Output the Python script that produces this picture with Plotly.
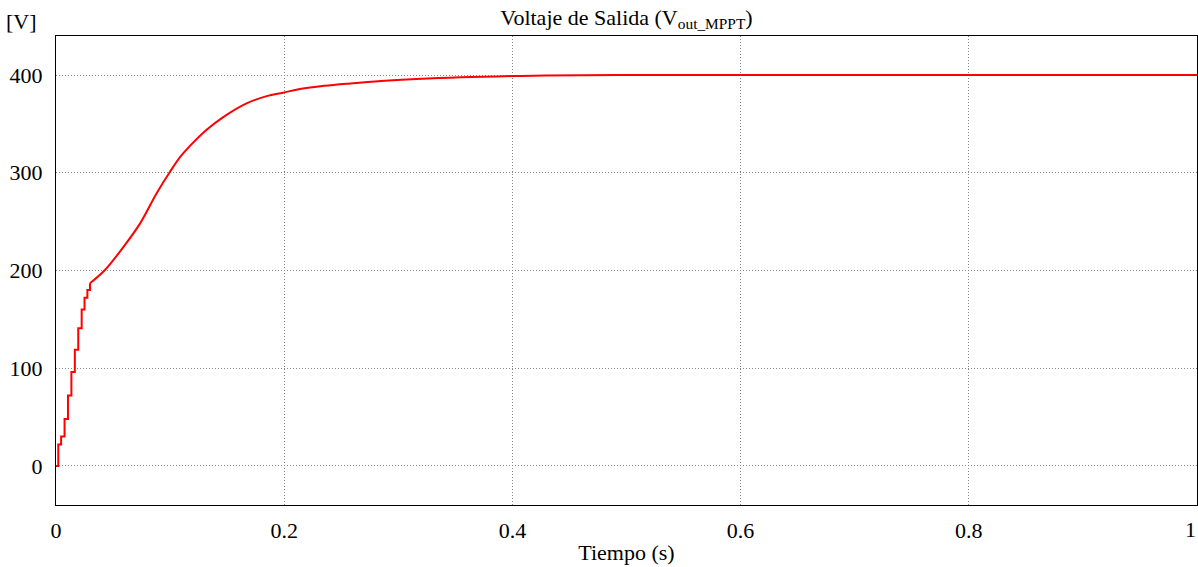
import plotly.graph_objects as go

# staircase start-up (charging in steps)
t_steps = [0, 0.002, 0.0045, 0.0075, 0.0105, 0.0135, 0.0165, 0.0195, 0.0225, 0.025, 0.0275, 0.0298]
v_steps = [0, 22, 30, 48, 72, 96, 119, 141, 160, 172, 180, 187]

# smooth part of the response
t_curve = [0.0298, 0.0429, 0.059, 0.0736, 0.0882, 0.0999, 0.1087, 0.117, 0.132, 0.1466, 0.167,
           0.1846, 0.199, 0.2138, 0.235, 0.258, 0.285, 0.316, 0.345, 0.374, 0.40, 0.43, 0.5, 0.6, 0.8, 1.0]
v_curve = [187, 200.5, 224, 248, 279, 301, 316, 327, 344, 357, 371,
           378.5, 382, 385.7, 389, 391.5, 394, 396, 397.3, 398.3, 399, 399.6, 400, 400, 400, 400]

x_ticks = [0, 0.2, 0.4, 0.6, 0.8]
x_labels = ["0", "0.2", "0.4", "0.6", "0.8"]
y_ticks = [0, 100, 200, 300, 400]

font = "Liberation Serif"

fig = go.Figure()
fig.add_trace(go.Scatter(x=t_steps, y=v_steps, mode="lines", line=dict(color="red", width=2, shape="hv"),
                         showlegend=False))
fig.add_trace(go.Scatter(x=t_curve, y=v_curve, mode="lines", line=dict(color="red", width=2, shape="spline"),
                         showlegend=False))

fig.update_layout(
    width=1198, height=567,
    margin=dict(l=56, r=1, t=36, b=62),
    plot_bgcolor="white", paper_bgcolor="white",
    font=dict(family=font, size=22, color="black"),
    title=dict(text="Voltaje de Salida (V<sub>out_MPPT</sub>)", xref="paper", x=0.5, xanchor="center",
               y=0.97, yanchor="middle", font=dict(size=22)),
)
fig.update_xaxes(range=[0, 1], tickvals=x_ticks, ticktext=x_labels, automargin=False,
                 showgrid=True, gridcolor="#888", griddash="1px,2px", gridwidth=1,
                 showline=True, linecolor="black", linewidth=1, mirror=True,
                 zeroline=False, ticks="", ticklen=0, ticklabelstandoff=6,
                 title=dict(text="Tiempo (s)", standoff=2, font=dict(size=22)))
fig.update_yaxes(range=[-40, 440], tickvals=y_ticks, automargin=False,
                 showgrid=True, gridcolor="#888", griddash="1px,2px", gridwidth=1,
                 showline=True, linecolor="black", linewidth=1, mirror=True,
                 zeroline=False, ticks="", ticklen=0, ticklabelstandoff=8)
fig.add_annotation(text="[V]", xref="paper", yref="paper", x=-0.03, y=1.0,
                   xanchor="center", yanchor="bottom", showarrow=False, font=dict(size=22))
# last x tick label sits on the right edge, plotly drops it, so place it by hand
fig.add_annotation(text="1", xref="x", yref="paper", x=1, y=0, xshift=1, yshift=-10,
                   xanchor="right", yanchor="top", showarrow=False, font=dict(size=22))

# page body has a default 8px margin; drop it so the figure fills the window
fig.write_html("out.html", config={"displayModeBar": False},
               post_script="document.body.style.margin='0';")
